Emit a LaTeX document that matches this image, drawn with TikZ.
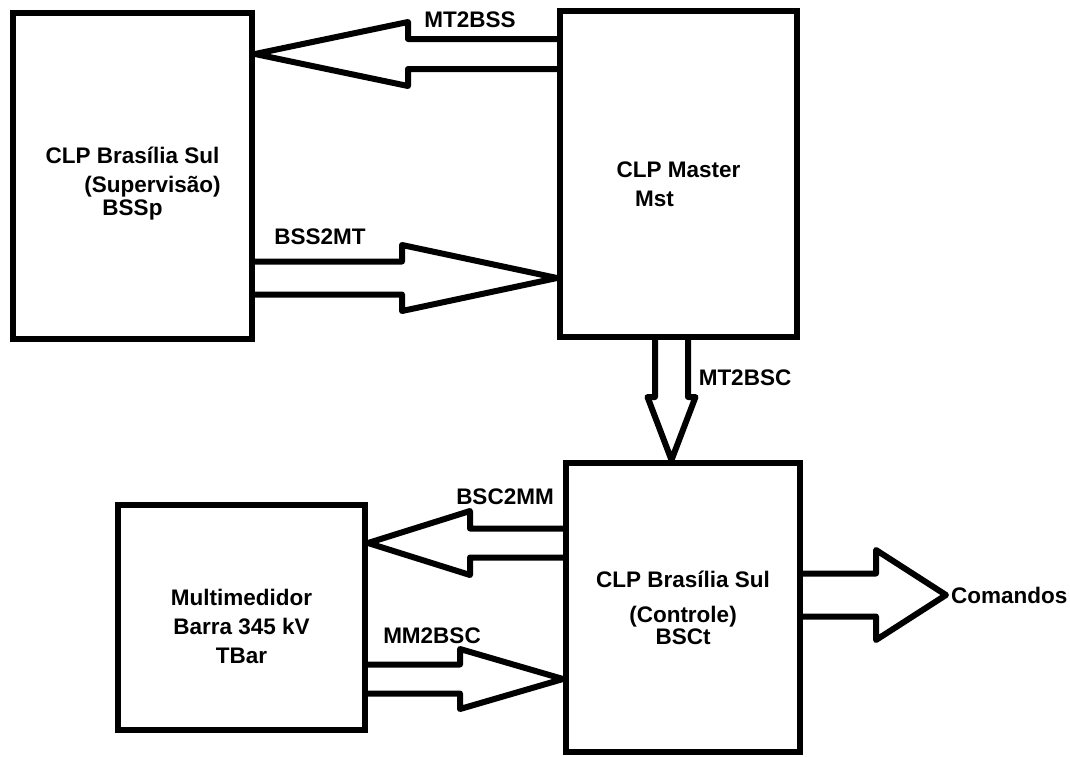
\documentclass[tikz,border=0pt]{standalone}
\usepackage{fontspec}
\setmainfont{Liberation Sans}
\usetikzlibrary{calc}

% block arrow: from, to, shaft half width, head half width, head length
\newcommand{\blockarrow}[5]{%
  \coordinate (hb) at ($(#2)!#5!(#1)$);
  \draw[blk] ($(#1)!#3!90:(#2)$) -- ($(hb)!#3!90:(#2)$) -- ($(hb)!#4!90:(#2)$)
    -- (#2) -- ($(hb)!#4!-90:(#2)$) -- ($(hb)!#3!-90:(#2)$) -- ($(#1)!#3!-90:(#2)$);
}

\begin{document}
\begin{tikzpicture}[
  x=1pt,y=-1pt,
  box/.style={draw,line width=6pt,inner sep=0pt},
  txt/.style={align=center,inner sep=0pt,font=\fontsize{22.5}{29}\selectfont\bfseries},
  lbl/.style={font=\fontsize{22.5}{26}\selectfont\bfseries,inner sep=0pt},
  blk/.style={line width=6pt,line join=round}
]
\useasboundingbox (0,0) rectangle (1070,756);
\node[box,minimum width=239pt,minimum height=326pt,
  label={[txt,yshift=-8pt]center:{CLP Brasília Sul\\\hspace*{40pt}(Supervisão)\\[-6pt]BSSp}}]
  (bssp) at (132.5,176) {};
\node[box,minimum width=237pt,minimum height=326pt,
  label={[txt,yshift=-10pt]center:{CLP Master\\Mst\hspace*{48pt}}}]
  (mst) at (678.5,174) {};
\node[box,minimum width=234pt,minimum height=289pt,
  label={[txt]center:{CLP Brasília Sul\\[6pt](Controle)\\[-7pt]BSCt}}]
  (bsct) at (683,607.5) {};
\node[box,minimum width=247pt,minimum height=225pt,
  label={[txt,yshift=-9pt]center:{Multimedidor\\Barra 345 kV\\TBar}}]
  (tbar) at (241.5,617.5) {};

\coordinate (s1) at ([yshift=-46pt]mst.north west);
\coordinate (t1) at (bssp.east |- s1);
\coordinate (s2) at ([yshift=-268pt]bssp.north east);
\coordinate (t2) at (mst.west |- s2);
\coordinate (s3) at ([xshift=-7pt]mst.south);
\coordinate (t3) at (bsct.north -| s3);
\coordinate (s4) at ([yshift=-83pt]bsct.north west);
\coordinate (t4) at (tbar.east |- s4);
\coordinate (s5) at ([yshift=-177pt]tbar.north east);
\coordinate (t5) at (bsct.west |- s5);
\coordinate (s6) at ([yshift=-135pt]bsct.north east);
\coordinate (cmd) at ([xshift=143pt]s6);

\blockarrow{s1}{t1}{15pt}{32pt}{153pt}
\blockarrow{s2}{t2}{16.5pt}{33pt}{155pt}
\blockarrow{s3}{t3}{16.5pt}{24pt}{63pt}
\blockarrow{s4}{t4}{14.5pt}{32pt}{102pt}
\blockarrow{s5}{t5}{14.5pt}{30pt}{103pt}
\blockarrow{s6}{cmd}{21.5pt}{45pt}{70pt}

\node[lbl] (lmt2bss) at (470,20) {MT2BSS};
\node[lbl] (lbss2mt) at (320,237) {BSS2MT};
\node[lbl] (lmt2bsc) at (745,378) {MT2BSC};
\node[lbl] (lbsc2mm) at (505,497) {BSC2MM};
\node[lbl] (lmm2bsc) at (432,636) {MM2BSC};
\node[lbl,anchor=west] (lcmd) at ([xshift=5pt]cmd) {Comandos};
\end{tikzpicture}
\end{document}
